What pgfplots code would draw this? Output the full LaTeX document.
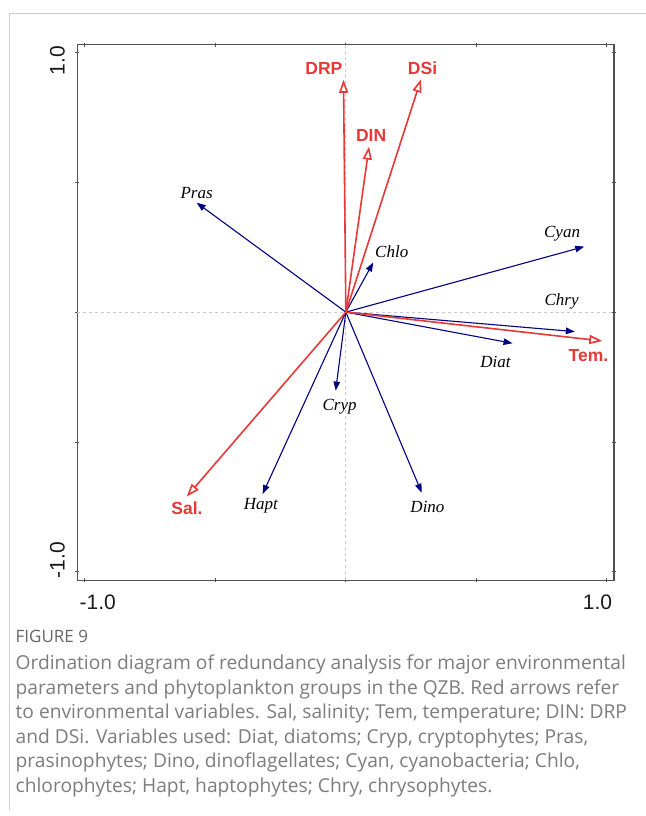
\documentclass[border=0pt]{standalone}
\usepackage{pgfplots}
\pgfplotsset{compat=1.18}
\usetikzlibrary{arrows.meta}
\usepackage{fontspec}
\setmainfont{Liberation Sans}
\newfontfamily\serifit{Liberation Serif}
\newfontfamily\capfont{Open Sans}
\definecolor{envred}{RGB}{232,56,56}
\definecolor{sppblue}{RGB}{0,0,128}
\definecolor{capgray}{RGB}{125,125,125}
\definecolor{axgray}{RGB}{80,80,80}
\definecolor{crossgray}{RGB}{200,200,200}
\newcommand{\spp}[1]{{\serifit\itshape\fontsize{17bp}{17bp}\selectfont #1}}
\newcommand{\env}[1]{{\bfseries\fontsize{17.5bp}{17.5bp}\selectfont\color{envred}#1}}
\newcommand{\capf}{\capfont\fontsize{19.2bp}{19.2bp}\selectfont}
\begin{document}
\begin{tikzpicture}
\useasboundingbox (0,0) rectangle (646bp,-816bp);
\fill[white] (0,0) rectangle (646bp,-816bp);
\draw[black!20, line width=1bp] (9bp,-810bp) -- (9bp,-13.5bp) -- (646bp,-13.5bp);
\begin{axis}[
  at={(77.3bp,-580.3bp)}, anchor=south west,
  scale only axis, width=536.7bp, height=535.6bp,
  xmin=-1.0295, xmax=1.028, ymin=-1.032, ymax=1.029,
  clip=false,
  axis line style={axgray, line width=1.5bp},
  tick style={axgray, line width=1bp},
  tick align=center, major tick length=4bp,
  xtick={-1,-0.5,0,0.5,1}, xticklabels={},
  ytick={-1,-0.5,0,0.5,1}, yticklabels={},
  extra x ticks={-0.951,0.965}, extra x tick labels={-1.0,1.0},
  extra y ticks={-0.954,0.967}, extra y tick labels={-1.0,1.0},
  extra x tick style={major tick length=0pt},
  extra y tick style={major tick length=0pt},
  ticklabel style={font=\fontsize{21bp}{21bp}\selectfont, text=black!90},
  xticklabel style={anchor=north, inner sep=0pt, yshift=-14.7bp},
  yticklabel style={xshift=-12.3bp, rotate=90, anchor=south, inner sep=0pt},
]
% cross hairs
\addplot[crossgray, dashed, line width=0.9bp] coordinates {(0,-1.032) (0,1.029)};
\addplot[crossgray, dashed, line width=0.9bp] coordinates {(-1.0295,0) (1.028,0)};
% species (blue)
\pgfplotsset{spparrow/.style={sppblue, line width=1.1bp, -{Triangle[length=9bp,width=6.5bp]}}}
\addplot[spparrow] coordinates {(0,0) (-0.572,0.421)};
\addplot[spparrow] coordinates {(0,0) (0.105,0.191)};
\addplot[spparrow] coordinates {(0,0) (0.914,0.252)};
\addplot[spparrow] coordinates {(0,0) (0.878,-0.075)};
\addplot[spparrow] coordinates {(0,0) (0.639,-0.120)};
\addplot[spparrow] coordinates {(0,0) (-0.039,-0.302)};
\addplot[spparrow] coordinates {(0,0) (-0.319,-0.700)};
\addplot[spparrow] coordinates {(0,0) (0.291,-0.695)};
% environment (red)
\pgfplotsset{envarrow/.style={envred, line width=1.6bp, -{Triangle[length=13bp,width=9bp,fill=white]}}}
\addplot[envarrow] coordinates {(0,0) (-0.009,0.894)};
\addplot[envarrow] coordinates {(0,0) (0.288,0.896)};
\addplot[envarrow] coordinates {(0,0) (0.089,0.637)};
\addplot[envarrow] coordinates {(0,0) (0.983,-0.111)};
\addplot[envarrow] coordinates {(0,0) (-0.610,-0.710)};
% labels
\node at (axis cs:-0.572,0.460) {\spp{Pras}};
\node at (axis cs:0.176,0.233) {\spp{Chlo}};
\node at (axis cs:0.829,0.301) {\spp{Cyan}};
\node at (axis cs:0.827,0.040) {\spp{Chry}};
\node at (axis cs:0.574,-0.191) {\spp{Diat}};
\node at (axis cs:-0.024,-0.364) {\spp{Cryp}};
\node at (axis cs:-0.326,-0.745) {\spp{Hapt}};
\node at (axis cs:0.313,-0.749) {\spp{Dino}};
\node at (axis cs:-0.084,0.936) {\env{DRP}};
\node at (axis cs:0.294,0.939) {\env{DSi}};
\node at (axis cs:0.097,0.681) {\env{DIN}};
\node at (axis cs:0.930,-0.169) {\env{Tem.}};
\node at (axis cs:-0.609,-0.755) {\env{Sal.}};
\end{axis}
\begin{scope}[every node/.style={anchor=base west, inner sep=0pt, text=capgray}]
\node at (15.5bp,-642.5bp) {\capfont\fontsize{17bp}{17bp}\selectfont\color{black!60}FIGURE 9};
\node at (15.5bp,-669.5bp) {\capf Ordination diagram of redundancy analysis for major environmental};
\node at (15.5bp,-694.1bp) {\capf parameters and phytoplankton groups in the QZB. Red arrows refer};
\node at (15.5bp,-718.7bp) {\capf to environmental variables. Sal, salinity; Tem, temperature; DIN: DRP};
\node at (15.5bp,-743.3bp) {\capf and DSi. Variables used: Diat, diatoms; Cryp, cryptophytes; Pras,};
\node at (15.5bp,-767.9bp) {\capf prasinophytes; Dino, dinoflagellates; Cyan, cyanobacteria; Chlo,};
\node at (15.5bp,-792.5bp) {\capf chlorophytes; Hapt, haptophytes; Chry, chrysophytes.};
\end{scope}
\end{tikzpicture}
\end{document}
